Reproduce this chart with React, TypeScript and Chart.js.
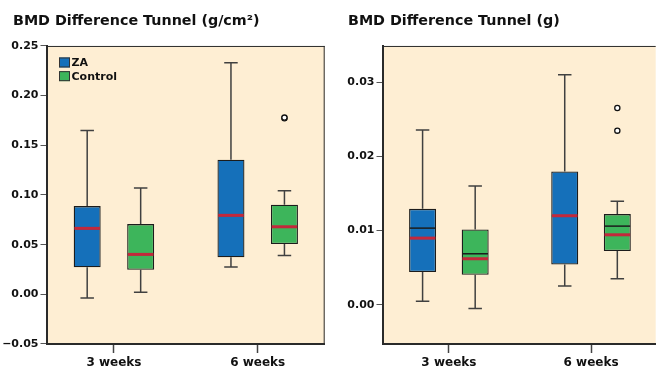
import React, { useEffect, useRef } from "react";
import { Chart, registerables } from "chart.js";

Chart.register(...registerables);

// ---------- data ----------
const categories = ["3 weeks", "6 weeks"];
const seriesNames = ["ZA", "Control"];

// Left panel: BMD Difference Tunnel (g/cm²)
const leftTicks = [-0.05, 0.0, 0.05, 0.1, 0.15, 0.2, 0.25];
const leftZaMin = [-0.0037, 0.0275];
const leftZaQ1 = [0.0272, 0.0372];
const leftZaMedian = [0.0664, 0.0795];
const leftZaRed = [0.0664, 0.0795];
const leftZaQ3 = [0.0888, 0.1355];
const leftZaMax = [0.165, 0.233];
const leftCtlMin = [0.002, 0.0392];
const leftCtlQ1 = [0.0248, 0.0506];
const leftCtlMedian = [0.0402, 0.068];
const leftCtlRed = [0.0402, 0.068];
const leftCtlQ3 = [0.0707, 0.0902];
const leftCtlMax = [0.107, 0.1043];
const leftCtlOutlierCat = [1, 1];
const leftCtlOutliers = [0.1772, 0.1779];

// Right panel: BMD Difference Tunnel (g)
const rightTicks = [0.0, 0.01, 0.02, 0.03];
const rightZaMin = [0.00045, 0.00252];
const rightZaQ1 = [0.0044, 0.00543];
const rightZaMedian = [0.01033, 0.012];
const rightZaRed = [0.00898, 0.012];
const rightZaQ3 = [0.01293, 0.01796];
const rightZaMax = [0.02357, 0.031];
const rightCtlMin = [-0.0005, 0.0035];
const rightCtlQ1 = [0.00404, 0.00723];
const rightCtlMedian = [0.00687, 0.0106];
const rightCtlRed = [0.0062, 0.00943];
const rightCtlQ3 = [0.01015, 0.01222];
const rightCtlMax = [0.016, 0.01397];
const rightCtlOutlierCat = [1, 1];
const rightCtlOutliers = [0.02654, 0.02348];

// ---------- style ----------
const FONT = "'DejaVu Sans', sans-serif";
const BLUE = "#1570BA";
const GREEN = "#3DB55B";
const RED = "#C3283B";
const BORDER = "#1c1c1c";
const WHISKER = "#404040";
const BG = "#FEEED3";

type Group = {
  min: number[]; q1: number[]; median: number[]; red: number[]; q3: number[]; max: number[];
  outCat: number[]; out: number[];
};

type Spec = {
  title: string;
  ticks: number[];
  decimals: number;
  yMin: number; yMax: number;
  xMin: number; xMax: number;
  offset: number;
  padLeft: number; padRight: number; yWidth: number; titleLeft: number;
  legend: boolean;
  groups: Group[];
};

const leftSpec: Spec = {
  title: "BMD Difference Tunnel (g/cm²)",
  ticks: leftTicks, decimals: 2,
  yMin: -0.05, yMax: 0.25,
  xMin: -0.469, xMax: 1.466, offset: 0.186,
  padLeft: 2, padRight: 3.5, yWidth: 44.5, titleLeft: 13,
  legend: true,
  groups: [
    { min: leftZaMin, q1: leftZaQ1, median: leftZaMedian, red: leftZaRed, q3: leftZaQ3, max: leftZaMax, outCat: [], out: [] },
    { min: leftCtlMin, q1: leftCtlQ1, median: leftCtlMedian, red: leftCtlRed, q3: leftCtlQ3, max: leftCtlMax, outCat: leftCtlOutlierCat, out: leftCtlOutliers },
  ],
};

const rightSpec: Spec = {
  title: "BMD Difference Tunnel (g)",
  ticks: rightTicks, decimals: 2,
  yMin: -0.0053, yMax: 0.0349,
  xMin: -0.467, xMax: 1.455, offset: 0.185,
  padLeft: 6, padRight: 0, yWidth: 46.5, titleLeft: 18,
  legend: false,
  groups: [
    { min: rightZaMin, q1: rightZaQ1, median: rightZaMedian, red: rightZaRed, q3: rightZaQ3, max: rightZaMax, outCat: [], out: [] },
    { min: rightCtlMin, q1: rightCtlQ1, median: rightCtlMedian, red: rightCtlRed, q3: rightCtlQ3, max: rightCtlMax, outCat: rightCtlOutlierCat, out: rightCtlOutliers },
  ],
};

const colors = [BLUE, GREEN];

function fmt(v: number, d: number) {
  const s = Math.abs(v).toFixed(d);
  return (v < -1e-12 ? "\u2212" : "") + s;
}

function makeConfig(spec: Spec): any {
  const offs = [-spec.offset, spec.offset];
  const datasets: any[] = spec.groups.map((g, gi) => ({
    type: "bar",
    label: seriesNames[gi],
    data: categories.map((_, i) => ({ x: i + offs[gi], y: [g.q1[i], g.q3[i]] })),
    backgroundColor: colors[gi],
    borderColor: BORDER,
    borderWidth: 1.3,
    borderSkipped: false,
    grouped: false,
    maxBarThickness: 27,
    order: 2,
  }));
  spec.groups.forEach((g, gi) => {
    if (g.out.length) {
      datasets.push({
        type: "scatter",
        label: seriesNames[gi] + " outliers",
        data: g.out.map((v, k) => ({ x: g.outCat[k] + offs[gi], y: v })),
        pointRadius: 2.6,
        pointBackgroundColor: "#ffffff",
        pointBorderColor: "#111111",
        pointBorderWidth: 1.3,
        showLine: false,
        order: 0,
      });
    }
  });

  const boxPlugin = {
    id: "boxExtras",
    afterLayout(chart: any) {
      if (chart.titleBlock) chart.titleBlock.left = spec.titleLeft;
    },
    beforeDraw(chart: any) {
      const { ctx, chartArea: a } = chart;
      ctx.save();
      ctx.fillStyle = BG;
      ctx.fillRect(a.left, a.top, a.right - a.left, a.bottom - a.top);
      ctx.restore();
    },
    afterDatasetsDraw(chart: any) {
      const { ctx } = chart;
      const ys = chart.scales.y;
      ctx.save();
      spec.groups.forEach((g, gi) => {
        const meta = chart.getDatasetMeta(gi);
        categories.forEach((_, i) => {
          const bar = meta.data[i];
          const cx = bar.x;
          const w = bar.width;
          const yq1 = ys.getPixelForValue(g.q1[i]);
          const yq3 = ys.getPixelForValue(g.q3[i]);
          const ymin = ys.getPixelForValue(g.min[i]);
          const ymax = ys.getPixelForValue(g.max[i]);
          const cap = w * 0.5;
          ctx.strokeStyle = WHISKER;
          ctx.lineWidth = 1.5;
          ctx.beginPath();
          ctx.moveTo(cx, yq3); ctx.lineTo(cx, ymax);
          ctx.moveTo(cx, yq1); ctx.lineTo(cx, ymin);
          ctx.moveTo(cx - cap / 2, ymax); ctx.lineTo(cx + cap / 2, ymax);
          ctx.moveTo(cx - cap / 2, ymin); ctx.lineTo(cx + cap / 2, ymin);
          ctx.stroke();
          const ym = ys.getPixelForValue(g.median[i]);
          ctx.strokeStyle = BORDER;
          ctx.lineWidth = 1.5;
          ctx.beginPath();
          ctx.moveTo(cx - w / 2 + 0.7, ym); ctx.lineTo(cx + w / 2 - 0.7, ym);
          ctx.stroke();
          const yr = ys.getPixelForValue(g.red[i]);
          ctx.strokeStyle = RED;
          ctx.lineWidth = 3;
          ctx.beginPath();
          ctx.moveTo(cx - w / 2 + 0.7, yr); ctx.lineTo(cx + w / 2 - 0.7, yr);
          ctx.stroke();
        });
      });
      ctx.restore();
    },
    afterDraw(chart: any) {
      const { ctx, chartArea: a } = chart;
      ctx.save();
      ctx.strokeStyle = "#2a2a2a";
      ctx.lineWidth = 1;
      ctx.beginPath();
      ctx.moveTo(a.left, a.top + 0.5);
      ctx.lineTo(a.right, a.top + 0.5);
      if (spec.padRight > 0) {
        ctx.moveTo(a.right - 0.5, a.top);
        ctx.lineTo(a.right - 0.5, a.bottom);
      }
      ctx.stroke();
      if (spec.legend) {
        const lx = a.left + 12.5;
        let ly = a.top + 11.5;
        ctx.font = `bold 11px ${FONT}`;
        ctx.textBaseline = "middle";
        ctx.textAlign = "left";
        seriesNames.forEach((name, k) => {
          ctx.fillStyle = colors[k];
          ctx.fillRect(lx, ly, 11, 10);
          ctx.strokeStyle = "#333";
          ctx.lineWidth = 1;
          ctx.strokeRect(lx + 0.5, ly + 0.5, 10, 9);
          ctx.fillStyle = "#111";
          ctx.fillText(name, lx + 12.5, ly + 5.5);
          ly += 13.7;
        });
      }
      ctx.restore();
    },
  };

  return {
    type: "bar",
    data: { datasets },
    plugins: [boxPlugin],
    options: {
      animation: false,
      responsive: false,
      devicePixelRatio: 1,
      layout: { padding: { left: spec.padLeft, right: spec.padRight, top: 0, bottom: 0 } },
      plugins: {
        legend: { display: false },
        tooltip: { enabled: false },
        title: {
          display: true,
          text: spec.title,
          align: "start",
          color: "#111",
          font: { family: FONT, size: 14.3, weight: "bold", lineHeight: 1.2 },
          padding: { top: 13, bottom: 15.8 },
        },
      },
      scales: {
        x: {
          type: "linear",
          offset: false,
          min: spec.xMin,
          max: spec.xMax,
          afterBuildTicks: (s: any) => { s.ticks = categories.map((_, i) => ({ value: i })); },
          afterFit: (s: any) => { s.height = 25; },
          ticks: {
            callback: (v: any) => categories[Math.round(Number(v))] ?? "",
            color: "#111",
            font: { family: FONT, size: 12, weight: "bold" },
            padding: 2.5,
            maxRotation: 0,
            autoSkip: false,
          },
          grid: { display: true, offset: false, drawOnChartArea: false, drawTicks: true, tickLength: 9, color: "#444", tickWidth: 1.5 },
          border: { display: true, color: "#2a2a2a", width: 2 },
        },
        y: {
          type: "linear",
          min: spec.yMin,
          max: spec.yMax,
          afterBuildTicks: (s: any) => { s.ticks = spec.ticks.map((v) => ({ value: v })); },
          afterFit: (s: any) => { s.width = spec.yWidth; },
          ticks: {
            callback: (v: any) => fmt(Number(v), spec.decimals),
            color: "#111",
            font: { family: FONT, size: 11, weight: "bold" },
            padding: 2,
            autoSkip: false,
          },
          grid: { display: true, drawOnChartArea: false, drawTicks: true, tickLength: 6, color: "#555", tickWidth: 1 },
          border: { display: true, color: "#2a2a2a", width: 2 },
        },
      },
    },
  };
}

export default function App() {
  const leftRef = useRef<HTMLCanvasElement>(null);
  const rightRef = useRef<HTMLCanvasElement>(null);
  useEffect(() => {
    const c1 = new Chart(leftRef.current as HTMLCanvasElement, makeConfig(leftSpec));
    const c2 = new Chart(rightRef.current as HTMLCanvasElement, makeConfig(rightSpec));
    return () => {
      c1.destroy();
      c2.destroy();
    };
  }, []);
  return (
    <div style={{ position: "fixed", left: 0, top: 0, width: 661, height: 369, background: "#fff", overflow: "hidden" }}>
      <canvas ref={leftRef} width={330} height={369} style={{ position: "absolute", left: 0, top: 0, width: 330, height: 369 }} />
      <canvas ref={rightRef} width={331} height={369} style={{ position: "absolute", left: 330, top: 0, width: 331, height: 369 }} />
    </div>
  );
}
